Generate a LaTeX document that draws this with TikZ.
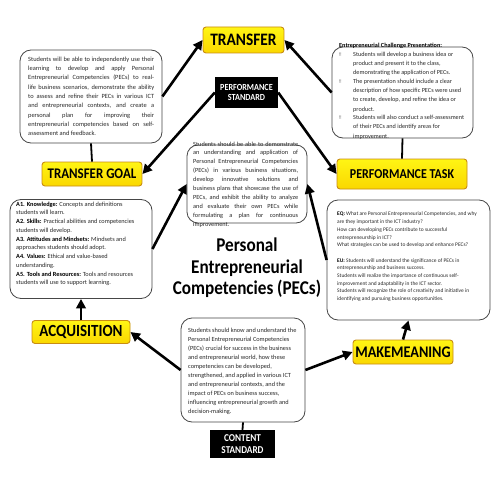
\documentclass[tikz,border=0pt]{standalone}
\usepackage{fontspec}
\setmainfont{Carlito}
\newfontfamily\dejavu{DejaVu Sans}
\newfontfamily\headfont[FakeStretch=0.88]{Carlito}
\usetikzlibrary{arrows.meta}
\definecolor{ytop}{RGB}{255,245,20}
\definecolor{ybot}{RGB}{250,215,0}
\definecolor{yborder}{RGB}{200,140,20}
\definecolor{bodytext}{RGB}{40,40,40}
\definecolor{rborder}{RGB}{70,70,70}
\newcommand{\bul}{\smash{\dejavu\fontsize{5}{6}\selectfont\color{gray}‼}}
\tikzset{
  ybox/.style={draw=yborder, line width=0.9pt, rounded corners=3pt, top color=ytop, bottom color=ybot, inner sep=0pt, text=black},
  kbox/.style={fill=black, text=white, inner sep=0pt, align=center, font=\headfont\bfseries\fontsize{9.3}{11}\selectfont},
  rbox/.style={draw=rborder, line width=0.8pt, rounded corners=11pt, fill=white, inner sep=0pt},
  btext/.style={inner sep=0pt, text=bodytext, anchor=north west},
  arr/.style={line width=2.6pt, -{Triangle[length=9.5pt,width=9.5pt]}},
  ln/.style={line width=1.8pt}
}
\begin{document}
\begin{tikzpicture}[x=1pt,y=-1pt]
\useasboundingbox[fill=white] (0,0) rectangle (492,492);

% boxes
\node[rbox, minimum width=142pt, minimum height=93pt] (tlbox) at (91,96.5) {};
\node[rbox, minimum width=141pt, minimum height=91pt] (trbox) at (402.5,92.5) {};
\node[rbox, minimum width=120pt, minimum height=78pt] (ctbox) at (247,184) {};
\node[rbox, minimum width=142pt, minimum height=99pt] (lbox) at (81,249) {};
\node[rbox, minimum width=163pt, minimum height=120pt] (eqbox) at (408.5,260) {};
\node[rbox, minimum width=124pt, minimum height=104pt] (cbox) at (243,370) {};

\node[ybox, minimum width=81pt, minimum height=26pt, font=\headfont\bfseries\fontsize{17.5}{17.5}\selectfont] (transfer) at (243.5,40) {TRANSFER};
\node[ybox, minimum width=100pt, minimum height=24pt, font=\headfont\bfseries\fontsize{14.7}{14.7}\selectfont] (tgoal) at (92,174) {TRANSFER GOAL};
\node[ybox, minimum width=130pt, minimum height=30pt, font=\headfont\bfseries\fontsize{13.6}{13.6}\selectfont] (ptask) at (402,174) {PERFORMANCE TASK};
\node[ybox, minimum width=98pt, minimum height=23pt, font=\headfont\bfseries\fontsize{17}{17}\selectfont] (acq) at (81,332) {ACQUISITION};
\node[ybox, minimum width=100pt, minimum height=24pt, font=\headfont\bfseries\fontsize{16.2}{16.2}\selectfont] (mkm) at (403,352) {MAKEMEANING};

\node[kbox, minimum width=63pt, minimum height=31pt] (pstd) at (246.5,92.5) {PERFORMANCE\\[-1pt]STANDARD};
\node[kbox, minimum width=65pt, minimum height=28pt, font=\headfont\bfseries\fontsize{10.5}{12.5}\selectfont] (cstd) at (242.5,444) {CONTENT\\[-1pt]STANDARD};

% texts
\node[btext, text width=126pt, align=justify, font=\fontsize{6.4}{9.33}\selectfont] (tltext) at (28,56.5) {Students will be able to independently use their\linebreak learning to develop and apply Personal\linebreak Entrepreneurial Competencies (PECs) to real-\linebreak life business scenarios, demonstrate the ability\linebreak to assess and refine their PECs in various ICT\linebreak and entrepreneurial contexts, and create a\linebreak personal plan for improving their\linebreak entrepreneurial competencies based on self-\linebreak assessment and feedback.};

\node[btext, font=\fontsize{6.2}{9}\selectfont] (trtext) at (339,41.5) {%
\def\arraystretch{1}%
\begin{tabular}{@{}p{8pt}@{\hspace{6pt}}l@{}}
\multicolumn{2}{@{}l}{\textbf{\color{black}Entrepreneurial Challenge Presentation:}}\\
\bul & Students will develop a business idea or\\
 & product and present it to the class,\\
 & demonstrating the application of PECs.\\
\bul & The presentation should include a clear\\
 & description of how specific PECs were used\\
 & to create, develop, and refine the idea or\\
 & product.\\
\bul & Students will also conduct a self-assessment\\
 & of their PECs and identify areas for\\
 & improvement.
\end{tabular}};

\node[btext, text width=105pt, align=justify, font=\fontsize{6.3}{8.9}\selectfont] (cttext) at (193,141.5) {Students should be able to demonstrate\linebreak an understanding and application of\linebreak Personal Entrepreneurial Competencies\linebreak (PECs) in various business situations,\linebreak develop innovative solutions and\linebreak business plans that showcase the use of\linebreak PECs, and exhibit the ability to analyze\linebreak and evaluate their own PECs while\linebreak formulating a plan for continuous\linebreak improvement.};

\node[btext, align=left, font=\fontsize{6.3}{8.75}\selectfont] (ltext) at (16,201.5) {\textbf{\color{black}A1. Knowledge:} Concepts and definitions\\ students will learn.\\ \textbf{\color{black}A2. Skills:} Practical abilities and competencies\\ students will develop.\\ \textbf{\color{black}A3. Attitudes and Mindsets:} Mindsets and\\ approaches students should adopt.\\ \textbf{\color{black}A4. Values:} Ethical and value-based\\ understanding.\\ \textbf{\color{black}A5. Tools and Resources:} Tools and resources\\ students will use to support learning.};

\node[btext, align=left, font=\fontsize{5.45}{7.7}\selectfont] (eqtext) at (337,212) {\textbf{\color{black}EQ:} What are Personal Entrepreneurial Competencies, and why\\ are they important in the ICT industry?\\ How can developing PECs contribute to successful\\ entrepreneurship in ICT?\\ What strategies can be used to develop and enhance PECs?\\[7.7pt] \textbf{\color{black}EU:} Students will understand the significance of PECs in\\ entrepreneurship and business success.\\ Students will realize the importance of continuous self-\\ improvement and adaptability in the ICT sector.\\ Students will recognize the role of creativity and initiative in\\ identifying and pursuing business opportunities.};

\node[btext, align=left, font=\fontsize{6.3}{9}\selectfont] (ctext) at (188,327.5) {Students should know and understand the\\ Personal Entrepreneurial Competencies\\ (PECs) crucial for success in the business\\ and entrepreneurial world, how these\\ competencies can be developed,\\ strengthened, and applied in various ICT\\ and entrepreneurial contexts, and the\\ impact of PECs on business success,\\ influencing entrepreneurial growth and\\ decision-making.};

\node[inner sep=0pt, align=center, text=black, font=\headfont\bfseries\fontsize{19.5}{21.5}\selectfont] (title) at (247,268) {Personal\\ Entrepreneurial\\ Competencies (PECs)};

% connectors
\draw[arr] (tlbox.east) -- (transfer.west);
\draw[arr] (trbox.west) -- (transfer.east);
\draw[arr] (pstd.west) -- (tgoal.east);
\draw[arr] (pstd.east) -- (ptask.west);
\draw[ln] (tlbox.south) -- (tgoal.north);
\draw[ln] (trbox.south) -- (ptask.north);
\draw[arr] (lbox.east) -- (ctbox.west);
\draw[arr] (eqbox.west) -- (ctbox.east);
\draw[arr] (acq.north) -- (lbox.south);
\draw[arr] (cbox.west) -- (acq.east);
\draw[arr] (cbox.east) -- (mkm.west);
\draw[arr] (mkm.north) -- (eqbox.south);
\draw[ln] (cbox.south) -- (cstd.north);
\end{tikzpicture}
\end{document}
